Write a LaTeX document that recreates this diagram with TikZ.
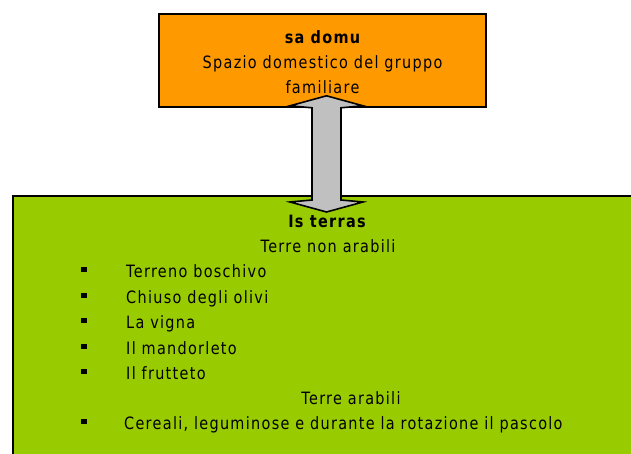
\documentclass[tikz,border=0pt]{standalone}
\usepackage{fontspec}
\usepackage{tikz}
\usetikzlibrary{calc}
\newfontfamily\diagfont{DejaVu Sans}[FakeStretch=0.85, LetterSpace=7.6]
\definecolor{domuorange}{HTML}{FF9900}
\definecolor{terrasgreen}{HTML}{99CC00}
\definecolor{linkgray}{HTML}{C0C0C0}
\tikzset{
  block/.style  ={rectangle, draw=black, line width=1.6pt, inner sep=0pt},
  blockD/.style ={block, fill=domuorange, minimum width=327pt, minimum height=93pt},  % casa
  blockT/.style ={block, fill=terrasgreen, minimum width=660pt, minimum height=300pt}, % terre
  txt/.style    ={font=\diagfont\fontsize{17}{20}\selectfont, inner sep=0pt, anchor=base},
  txtB/.style   ={txt, font=\diagfont\fontsize{17}{20}\selectfont\bfseries},
  txtL/.style   ={txt, anchor=base west},
  sqbullet/.style={rectangle, fill=black, minimum width=6pt, minimum height=5pt, inner sep=0pt},
  link/.style   ={draw=black, line width=1.6pt, fill=linkgray, line join=miter},
}
\begin{document}
\begin{tikzpicture}[x=1pt, y=-1pt]
  \useasboundingbox (0,0) rectangle (631,454);
  \node[blockD] (domu) at (322.5,60.5) {};
  \node[blockT, anchor=north west] (terras) at (12,195) {};
  % sa domu
  \node[txtB] (domuT) at (322.5,44) {sa domu};
  \node[txt]  (domu1) at (322.5,69) {Spazio domestico del gruppo};
  \node[txt]  (domu2) at (322.5,94) {familiare};
  % is terras
  \node[txtB] (terT)  at (327,227) {Is terras};
  \node[txt]  (nonar) at (328,252) {Terre non arabili};
  \node[sqbullet] at (84,269.5) {};
  \node[txtL] (it1) at (126,277) {Terreno boschivo};
  \node[sqbullet] at (84,295) {};
  \node[txtL] (it2) at (126,303) {Chiuso degli olivi};
  \node[sqbullet] at (84,320.5) {};
  \node[txtL] (it3) at (126,328) {La vigna};
  \node[sqbullet] at (84,346) {};
  \node[txtL] (it4) at (126,354) {Il mandorleto};
  \node[sqbullet] at (84,371.5) {};
  \node[txtL] (it5) at (126,379) {Il frutteto};
  \node[txt]  (arab)  at (351,404) {Terre arabili};
  \node[sqbullet] at (84,421.5) {};
  \node[txtL] (it6) at (124,429) {Cereali, leguminose e durante la rotazione il pascolo};
  % freccia doppia
  \coordinate (up) at ([xshift=4pt, yshift=12pt]domu.south);
  \coordinate (dn) at ([xshift=314.5pt, yshift=-17pt]terras.north west);
  \draw[link] (up) -- ++(36.5,10) -- ++(-22,2) -- ($(dn)+(14.5,-12)$) -- ++(22,2)
    -- (dn) -- ++(-36.5,-10) -- ++(22,-2) -- ($(up)+(-14.5,12)$) -- ++(-22,-2) -- cycle;
\end{tikzpicture}
\end{document}
